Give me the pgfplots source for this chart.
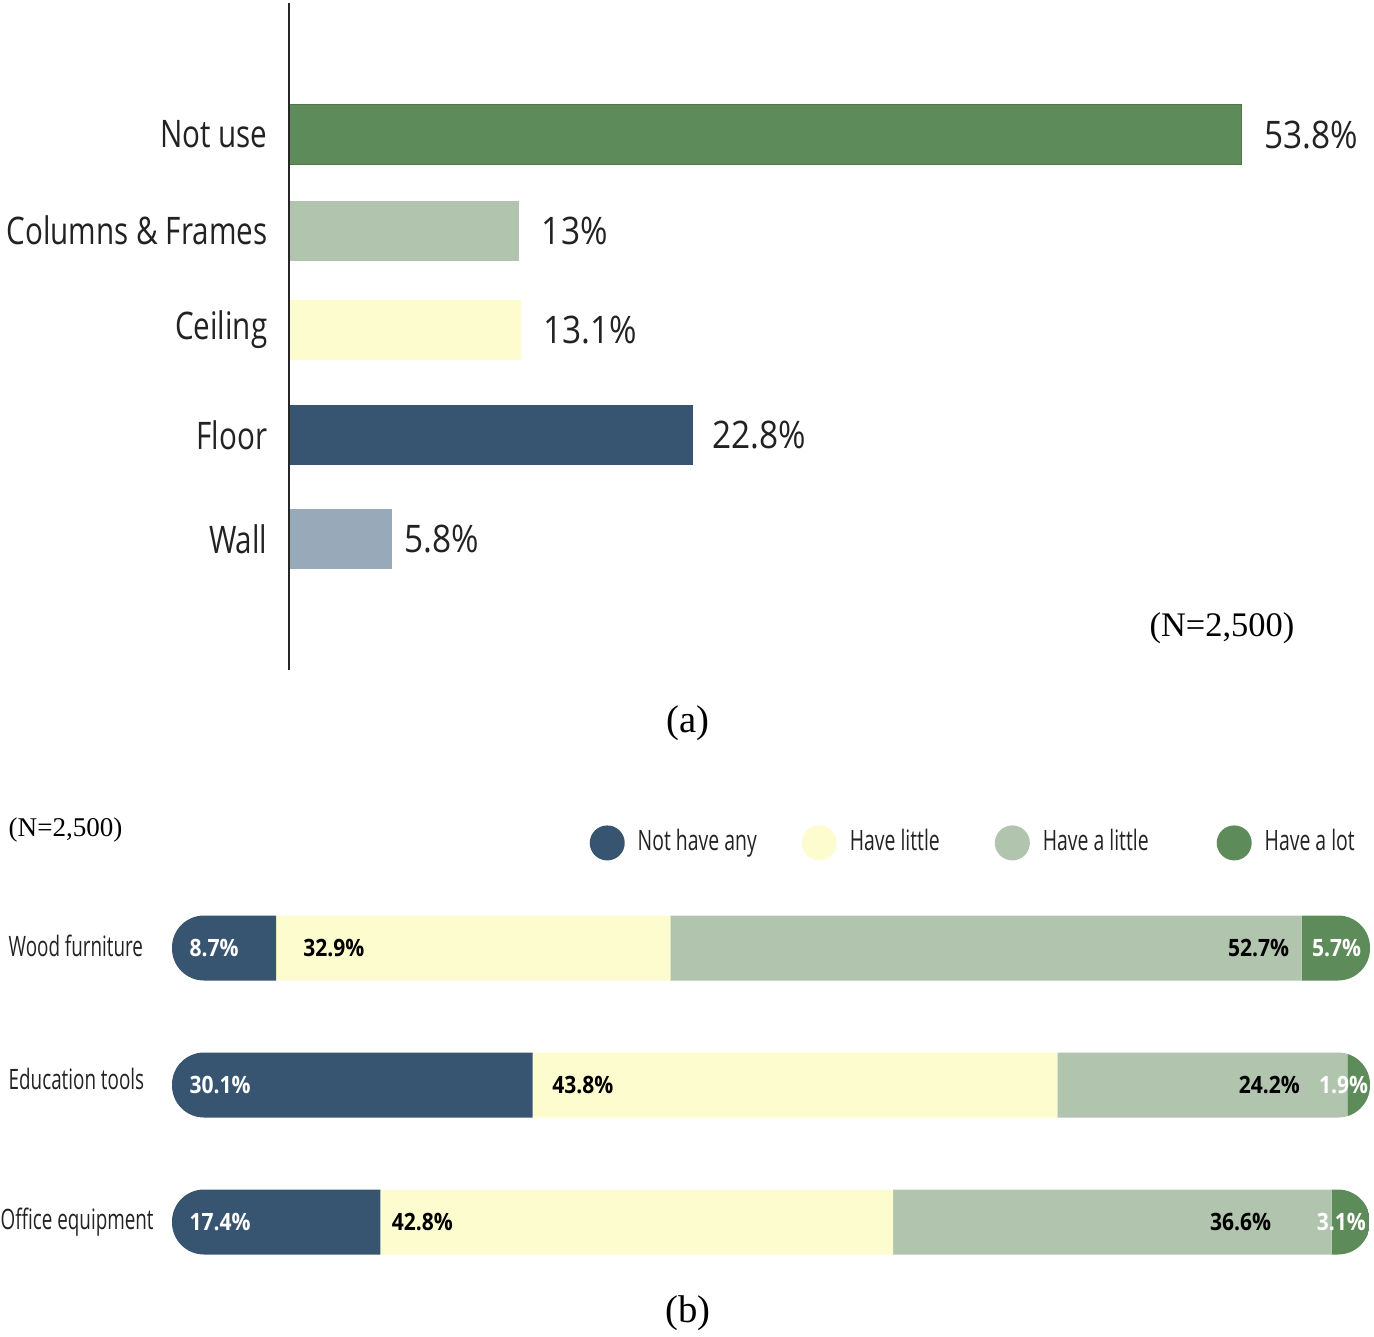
\documentclass[border=0pt]{standalone}
\usepackage{pgfplots}
\pgfplotsset{compat=1.18}
\usepackage{fontspec}
\setmainfont{Liberation Serif}
\newfontfamily\osA{Open Sans}[FakeStretch=0.78]
\newfontfamily\osV{Open Sans}[FakeStretch=0.88]
\newfontfamily\osB{Open Sans}[FakeStretch=0.67]
\newfontfamily\osL{Open Sans}[FakeStretch=0.69]
\newfontfamily\osC{Open Sans}[FakeStretch=0.88]
\newcommand\labA{\osA\fontsize{10.8}{13}\selectfont}
\newcommand\valA{\osV\fontsize{10.8}{13}\selectfont}
\newcommand\labB{\osB\fontsize{8}{10}\selectfont}
\newcommand\legB{\osL\fontsize{8}{10}\selectfont}
\newcommand\valB{\osC\bfseries\fontsize{6.8}{8}\selectfont}
\definecolor{cDG}{HTML}{5E8B5A}
\definecolor{cLG}{HTML}{B1C4AE}
\definecolor{cY}{HTML}{FDFCCF}
\definecolor{cDB}{HTML}{375470}
\definecolor{cGB}{HTML}{98A9B9}
\definecolor{txt}{HTML}{222222}
\pgfplotsset{panelb/.style={
  at={(1.72cm,-8.795cm)}, anchor=north west,
  scale only axis, width=11.98cm, height=4.11cm,
  xmin=0, xmax=100, ymin=0.5, ymax=3.5,
  axis lines=none, xtick=\empty, ytick=\empty}}
\begin{document}
\begin{tikzpicture}
\useasboundingbox (0,0) rectangle (13.74cm,-13.36cm);
% ---------------- panel (a)
\begin{axis}[
  at={(2.89cm,-0.03cm)}, anchor=north west,
  scale only axis, width=10.626cm, height=6.67cm,
  xmin=0, xmax=60, ymin=-0.29, ymax=6.3,
  axis x line=none, axis y line*=left,
  axis on top,
  y axis line style={draw=black!85, line width=0.8pt},
  ytick={1,2.03,3.07,4.05,5},
  yticklabels={Wall,Floor,Ceiling,Columns \& Frames,Not use},
  major tick length=0pt, ytick style={draw=none},
  yticklabel style={font=\labA, text=txt, inner sep=0pt, xshift=-0.21cm},
  xbar, bar width=0.6cm, bar shift=0pt,
  point meta=explicit symbolic,
  nodes near coords={\pgfplotspointmeta\%},
  nodes near coords style={font=\valA, text=txt, anchor=west, inner sep=0pt, xshift=0.22cm},
  clip=false,
]
\addplot[fill=cDG, draw=cDG!85!black, line width=0.4pt] coordinates {(53.8,5) [53.8]};
\addplot[fill=cLG, draw=none] coordinates {(13,4.05) [13]};
\addplot[fill=cY, draw=none] coordinates {(13.1,3.07) [13.1]};
\addplot[fill=cDB, draw=none, every node near coord/.append style={xshift=-0.03cm}] coordinates {(22.8,2.03) [22.8]};
\addplot[fill=cGB, draw=none, every node near coord/.append style={xshift=-0.1cm}] coordinates {(5.8,1) [5.8]};
\end{axis}
\node[anchor=center, font=\fontsize{9.8}{12}\selectfont] at (12.22cm,-6.28cm) {(N=2,500)};
\node[anchor=center, font=\fontsize{11}{13}\selectfont] at (6.88cm,-7.23cm) {(a)};
% ---------------- panel (b)
\node[anchor=west, font=\fontsize{7.7}{9}\selectfont, inner sep=0pt] at (0.08cm,-8.30cm) {(N=2,500)};
\node[anchor=west, font=\labB, text=txt, inner sep=0pt] at (0.08cm,-9.46cm) {Wood furniture};
\node[anchor=west, font=\labB, text=txt, inner sep=0pt] at (0.08cm,-10.79cm) {Education tools};
\node[anchor=west, font=\labB, text=txt, inner sep=0pt] at (0.00cm,-12.22cm) {Office equipment};
\begin{scope}
\clip[rounded corners=0.32cm]
  (1.72cm,-9.155cm) rectangle (13.70cm,-9.805cm)
  (1.72cm,-10.525cm) rectangle (13.70cm,-11.175cm)
  (1.72cm,-11.895cm) rectangle (13.70cm,-12.545cm);
\begin{axis}[panelb, xbar stacked, bar width=0.65cm]
\addplot[fill=cDB, draw=none] coordinates {(8.7,3) (30.1,2) (17.4,1)};
\addplot[fill=cY, draw=none] coordinates {(32.9,3) (43.8,2) (42.8,1)};
\addplot[fill=cLG, draw=none] coordinates {(52.7,3) (24.2,2) (36.6,1)};
\addplot[fill=cDG, draw=none] coordinates {(5.7,3) (1.9,2) (3.1,1)};
\coordinate (a1) at (axis cs:1.42,3);
\coordinate (a2) at (axis cs:10.9,3);
\coordinate (a3) at (axis cs:93.3,3);
\coordinate (a4) at (axis cs:95.1,3);
\coordinate (b1) at (axis cs:1.42,2);
\coordinate (b2) at (axis cs:31.7,2);
\coordinate (b3) at (axis cs:94.2,2);
\coordinate (b4) at (axis cs:95.7,2);
\coordinate (c1) at (axis cs:1.42,1);
\coordinate (c2) at (axis cs:18.3,1);
\coordinate (c3) at (axis cs:91.8,1);
\coordinate (c4) at (axis cs:95.5,1);
\end{axis}
\end{scope}
\begin{scope}[every node/.style={font=\valB, inner sep=0pt}]
\node[anchor=west, text=white] at (a1) {8.7\%};
\node[anchor=west, text=black] at (a2) {32.9\%};
\node[anchor=east, text=black] at (a3) {52.7\%};
\node[anchor=west, text=white] at (a4) {5.7\%};
\node[anchor=west, text=white] at (b1) {30.1\%};
\node[anchor=west, text=black] at (b2) {43.8\%};
\node[anchor=east, text=black] at (b3) {24.2\%};
\node[anchor=west, text=white] at (b4) {1.9\%};
\node[anchor=west, text=white] at (c1) {17.4\%};
\node[anchor=west, text=black] at (c2) {42.8\%};
\node[anchor=east, text=black] at (c3) {36.6\%};
\node[anchor=west, text=white] at (c4) {3.1\%};
\end{scope}
% legend of panel (b)
\begin{axis}[panelb,
  legend columns=4,
  legend image code/.code={\fill[draw=none] (0.175cm,0cm) circle (0.175cm);},
  legend style={at={(1,1.089)}, anchor=east, xshift=-0.04cm, draw=none, fill=none,
    font=\legB, text=txt, nodes={inner sep=0pt},
    /tikz/every odd column/.append style={column sep=0.13cm},
    /tikz/column 2/.style={column sep=0.45cm},
    /tikz/column 4/.style={column sep=0.55cm},
    /tikz/column 6/.style={column sep=0.68cm}},
  legend cell align=left,
]
\addlegendimage{fill=cDB, draw=none}
\addlegendentry{Not have any}
\addlegendimage{fill=cY, draw=none}
\addlegendentry{Have little}
\addlegendimage{fill=cLG, draw=none}
\addlegendentry{Have a little}
\addlegendimage{fill=cDG, draw=none}
\addlegendentry{Have a lot}
\end{axis}
\node[anchor=center, font=\fontsize{11}{13}\selectfont] at (6.88cm,-13.13cm) {(b)};
\end{tikzpicture}
\end{document}
